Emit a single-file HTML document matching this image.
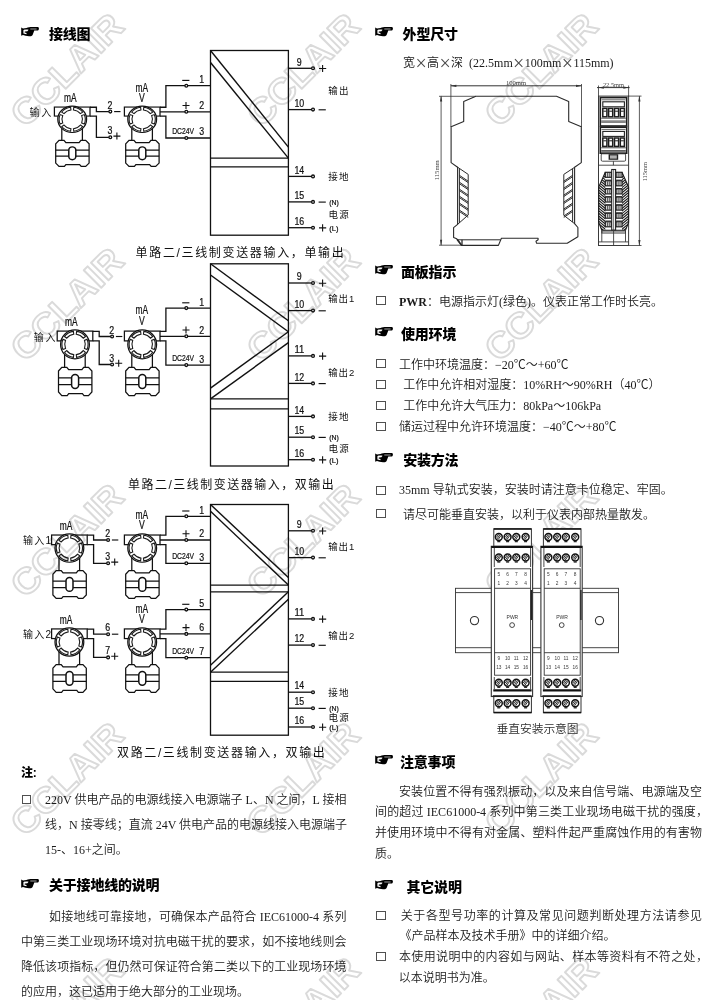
<!DOCTYPE html>
<html lang="zh-CN"><head><meta charset="utf-8"><title>接线图</title>
<style>
html,body{margin:0;padding:0;background:#fff}
#page{position:relative;width:719px;height:1000px;overflow:hidden;background:#fff}
.abs{position:absolute}
.hd{font:900 14px/22px 'Liberation Sans','Noto Sans CJK SC',sans-serif;color:#000;white-space:nowrap;letter-spacing:-0.2px}
.tx{font:12px/16px 'Liberation Serif','Noto Sans CJK SC',sans-serif;color:#1a1a1a;white-space:nowrap;height:16px;margin-top:-0.1px;font-weight:350}
.tx.j{text-align:justify;text-align-last:justify;white-space:nowrap;overflow:visible}
.xx{display:inline-block;width:12px;text-align:center;font-size:20px;color:#4a4a4a;line-height:0;position:relative;top:2.6px}
.pe{margin-right:-6px}
.tx b{font-weight:700}
.bx{width:7.4px;height:7.2px;border:1px solid #505050;box-sizing:content-box}
svg text{white-space:pre}
</style></head>
<body><div id="page">
<svg class="abs" style="left:0;top:0" width="719" height="1000" viewBox="0 0 719 1000"><defs><g id="tx" fill="none" stroke="#111" stroke-width="1.25">
<rect x="-17.8" y="-13.3" width="35.6" height="9.8"/>
<circle r="14.4" fill="#fff"/>
<path d="M12.06 5.12A13.1 13.1 0 0 0 12.06 -5.12L9.48 -4.02A10.3 10.3 0 0 1 9.48 4.02ZM10.46 -7.88A13.1 13.1 0 0 0 1.60 -13.00L1.26 -10.22A10.3 10.3 0 0 1 8.23 -6.20ZM-1.60 -13.00A13.1 13.1 0 0 0 -10.46 -7.88L-8.23 -6.20A10.3 10.3 0 0 1 -1.26 -10.22ZM-12.06 -5.12A13.1 13.1 0 0 0 -12.06 5.12L-9.48 4.02A10.3 10.3 0 0 1 -9.48 -4.02ZM-10.46 7.88A13.1 13.1 0 0 0 -1.60 13.00L-1.26 10.22A10.3 10.3 0 0 1 -8.23 6.20ZM1.60 13.00A13.1 13.1 0 0 0 10.46 7.88L8.23 6.20A10.3 10.3 0 0 1 1.26 10.22Z" stroke-width="1.1" stroke="#1a1a1a" fill="#fff"/>
<path d="M-10.4 10V23M10.2 10V23"/>
<path d="M-16.5 26.6L-13.2 22.9H-8.2L-6.3 25.3H6.9L8.7 22.9H13.5L16.9 26.6V47.6L13.5 51.2H9L7.4 49.3H-6.3L-7.8 51.2H-13.2L-16.5 47.6Z"/>
<path d="M-16.5 33.5H-3.5M3.7 33.5H16.9M-16.5 40.1H-3.5M3.7 40.1H16.9"/>
<rect x="-3.4" y="30" width="7" height="14" rx="3.5" stroke-width="1.5"/>
</g></defs><g fill="none" stroke="#111" stroke-width="1.3" font-family="'Liberation Sans','Noto Sans CJK SC',sans-serif"><g id="dg"><use href="#tx" transform="translate(72.2 119.3) scale(1 0.92)"/>
<use href="#tx" transform="translate(142.2 119.3) scale(1 0.92)"/>
<text fill="#111" stroke="none" x="29.5" y="115.89999999999999" font-size="10" letter-spacing="1.7" text-anchor="start">输入</text>
<path d="M90.0 107.25L96.4 107.25L96.4 111.6L109.0 111.6" />
<path d="M90.0 116.08L96.4 116.08L96.4 137.3L109.0 137.3" />
<circle cx="110.3" cy="111.6" r="1.4" fill="#fff" stroke-width="1.3"/>
<circle cx="110.3" cy="137.3" r="1.4" fill="#fff" stroke-width="1.3"/>
<text fill="#111" stroke="#111" stroke-width="0.22" x="110.0" y="108.6" font-size="10" text-anchor="middle" textLength="4.9" lengthAdjust="spacingAndGlyphs" >2</text>
<text fill="#111" stroke="#111" stroke-width="0.22" x="110.0" y="134.3" font-size="10" text-anchor="middle" textLength="4.9" lengthAdjust="spacingAndGlyphs" >3</text>
<path d="M114.1 111.6H120.5" stroke-width="1.15"/>
<path d="M113.39999999999999 136.10000000000002H120.39999999999999M116.89999999999999 132.60000000000002V139.60000000000002" stroke-width="1.1"/>
<text fill="#111" stroke="#111" stroke-width="0.22" x="70.2" y="102.1" font-size="12" text-anchor="middle" textLength="12.6" lengthAdjust="spacingAndGlyphs" >mA</text>
<path d="M160.0 107.25L165.9 107.25L165.9 85.7L210.5 85.7" />
<path d="M160.0 111.8L210.5 111.8" />
<path d="M160.0 116.08L165.9 116.08L165.9 138.0L210.5 138.0" />
<circle cx="186.3" cy="85.7" r="1.4" fill="#fff" stroke-width="1.3"/>
<text fill="#111" stroke="#111" stroke-width="0.22" x="201.6" y="83.10000000000001" font-size="10" text-anchor="middle" textLength="4.9" lengthAdjust="spacingAndGlyphs" >1</text>
<circle cx="186.3" cy="111.8" r="1.4" fill="#fff" stroke-width="1.3"/>
<text fill="#111" stroke="#111" stroke-width="0.22" x="201.6" y="109.2" font-size="10" text-anchor="middle" textLength="4.9" lengthAdjust="spacingAndGlyphs" >2</text>
<circle cx="186.3" cy="138.0" r="1.4" fill="#fff" stroke-width="1.3"/>
<text fill="#111" stroke="#111" stroke-width="0.22" x="201.6" y="135.4" font-size="10" text-anchor="middle" textLength="4.9" lengthAdjust="spacingAndGlyphs" >3</text>
<path d="M182.20000000000002 80.4H189.4" stroke-width="1.15"/>
<path d="M182.5 105.5H189.5M186.0 102.0V109.0" stroke-width="1.1"/>
<text fill="#111" stroke="#111" stroke-width="0.22" x="172.2" y="134.0" font-size="8.8" text-anchor="start" textLength="21.8" lengthAdjust="spacingAndGlyphs" >DC24V</text>
<text fill="#111" stroke="#111" stroke-width="0.22" x="141.79999999999998" y="91.7" font-size="12" text-anchor="middle" textLength="12.6" lengthAdjust="spacingAndGlyphs" >mA</text>
<text fill="#111" stroke="#111" stroke-width="0.22" x="142.0" y="101.5" font-size="12" text-anchor="middle" textLength="5.8" lengthAdjust="spacingAndGlyphs" >V</text>
<rect x="210.5" y="50.5" width="77.89999999999998" height="184.7"/>
<path d="M210.5 50.5L288.4 147.1" stroke-width="1.4"/>
<path d="M210.5 62.5L288.4 158.1" stroke-width="1.4"/>
<path d="M210.5 158.1L288.4 158.1" />
<path d="M210.5 166.9L288.4 166.9" />
<path d="M288.4 68.3L311.7 68.3" />
<circle cx="313.0" cy="68.3" r="1.4" fill="#fff" stroke-width="1.3"/>
<text fill="#111" stroke="#111" stroke-width="0.22" x="299.3" y="65.5" font-size="10" text-anchor="middle" textLength="4.9" lengthAdjust="spacingAndGlyphs" >9</text>
<path d="M319.0 68.5H326.20000000000005M322.6 64.9V72.1" stroke-width="1.1"/>
<path d="M288.4 109.6L311.7 109.6" />
<circle cx="313.0" cy="109.6" r="1.4" fill="#fff" stroke-width="1.3"/>
<text fill="#111" stroke="#111" stroke-width="0.22" x="299.3" y="106.8" font-size="10" text-anchor="middle" textLength="9.8" lengthAdjust="spacingAndGlyphs" >10</text>
<path d="M318.59999999999997 109.8H325.8" stroke-width="1.15"/>
<text fill="#111" stroke="none" x="328.3" y="93.8" font-size="9.5" letter-spacing="1.2" text-anchor="start">输出</text>
<path d="M288.4 176.4L311.7 176.4" />
<circle cx="313.0" cy="176.4" r="1.4" fill="#fff" stroke-width="1.3"/>
<text fill="#111" stroke="#111" stroke-width="0.22" x="299.3" y="173.6" font-size="10" text-anchor="middle" textLength="9.8" lengthAdjust="spacingAndGlyphs" >14</text>
<path d="M288.4 201.9L311.7 201.9" />
<circle cx="313.0" cy="201.9" r="1.4" fill="#fff" stroke-width="1.3"/>
<text fill="#111" stroke="#111" stroke-width="0.22" x="299.3" y="199.1" font-size="10" text-anchor="middle" textLength="9.8" lengthAdjust="spacingAndGlyphs" >15</text>
<path d="M318.59999999999997 202.1H325.8" stroke-width="1.15"/>
<path d="M288.4 227.7L311.7 227.7" />
<circle cx="313.0" cy="227.7" r="1.4" fill="#fff" stroke-width="1.3"/>
<text fill="#111" stroke="#111" stroke-width="0.22" x="299.3" y="224.89999999999998" font-size="10" text-anchor="middle" textLength="9.8" lengthAdjust="spacingAndGlyphs" >16</text>
<path d="M319.0 227.89999999999998H326.20000000000005M322.6 224.29999999999998V231.49999999999997" stroke-width="1.1"/>
<text fill="#111" stroke="none" x="328.3" y="180.4" font-size="9.5" letter-spacing="1.2" text-anchor="start">接地</text>
<text fill="#111" stroke="none" x="328.6" y="218.0" font-size="9.5" letter-spacing="1.2" text-anchor="start">电源</text>
<text fill="#111" stroke="#111" stroke-width="0.22" x="329.3" y="204.8" font-size="7.8" text-anchor="start" textLength="9.6" lengthAdjust="spacingAndGlyphs" >(N)</text>
<text fill="#111" stroke="#111" stroke-width="0.22" x="329.3" y="230.79999999999998" font-size="7.8" text-anchor="start" textLength="9.2" lengthAdjust="spacingAndGlyphs" >(L)</text>
<use href="#tx" transform="translate(75.0 344.4) scale(1 1.0)"/>
<use href="#tx" transform="translate(142.2 344.4) scale(1 1.0)"/>
<text fill="#111" stroke="none" x="33.8" y="340.59999999999997" font-size="10" letter-spacing="1.7" text-anchor="start">输入</text>
<path d="M92.8 331.3L99.2 331.3L99.2 336.5L110.8 336.5" />
<path d="M92.8 340.9L99.2 340.9L99.2 364.5L110.8 364.5" />
<circle cx="112.1" cy="336.5" r="1.4" fill="#fff" stroke-width="1.3"/>
<circle cx="112.1" cy="364.5" r="1.4" fill="#fff" stroke-width="1.3"/>
<text fill="#111" stroke="#111" stroke-width="0.22" x="111.8" y="333.5" font-size="10" text-anchor="middle" textLength="4.9" lengthAdjust="spacingAndGlyphs" >2</text>
<text fill="#111" stroke="#111" stroke-width="0.22" x="111.8" y="361.5" font-size="10" text-anchor="middle" textLength="4.9" lengthAdjust="spacingAndGlyphs" >3</text>
<path d="M115.89999999999999 336.5H122.3" stroke-width="1.15"/>
<path d="M115.19999999999999 363.3H122.19999999999999M118.69999999999999 359.8V366.8" stroke-width="1.1"/>
<text fill="#111" stroke="#111" stroke-width="0.22" x="71.2" y="325.7" font-size="12" text-anchor="middle" textLength="12.6" lengthAdjust="spacingAndGlyphs" >mA</text>
<path d="M160.0 331.3L165.9 331.3L165.9 308.1L210.5 308.1" />
<path d="M160.0 336.3L210.5 336.3" />
<path d="M160.0 340.9L165.9 340.9L165.9 365.1L210.5 365.1" />
<circle cx="186.3" cy="308.1" r="1.4" fill="#fff" stroke-width="1.3"/>
<text fill="#111" stroke="#111" stroke-width="0.22" x="201.6" y="305.5" font-size="10" text-anchor="middle" textLength="4.9" lengthAdjust="spacingAndGlyphs" >1</text>
<circle cx="186.3" cy="336.3" r="1.4" fill="#fff" stroke-width="1.3"/>
<text fill="#111" stroke="#111" stroke-width="0.22" x="201.6" y="333.7" font-size="10" text-anchor="middle" textLength="4.9" lengthAdjust="spacingAndGlyphs" >2</text>
<circle cx="186.3" cy="365.1" r="1.4" fill="#fff" stroke-width="1.3"/>
<text fill="#111" stroke="#111" stroke-width="0.22" x="201.6" y="362.5" font-size="10" text-anchor="middle" textLength="4.9" lengthAdjust="spacingAndGlyphs" >3</text>
<path d="M182.20000000000002 302.8H189.4" stroke-width="1.15"/>
<path d="M182.5 330.0H189.5M186.0 326.5V333.5" stroke-width="1.1"/>
<text fill="#111" stroke="#111" stroke-width="0.22" x="172.2" y="361.1" font-size="8.8" text-anchor="start" textLength="21.8" lengthAdjust="spacingAndGlyphs" >DC24V</text>
<text fill="#111" stroke="#111" stroke-width="0.22" x="141.79999999999998" y="314.4" font-size="12" text-anchor="middle" textLength="12.6" lengthAdjust="spacingAndGlyphs" >mA</text>
<text fill="#111" stroke="#111" stroke-width="0.22" x="142.0" y="325.1" font-size="12" text-anchor="middle" textLength="5.8" lengthAdjust="spacingAndGlyphs" >V</text>
<rect x="210.5" y="263.8" width="77.89999999999998" height="202.2"/>
<path d="M210.5 263.8L288.4 320.8" stroke-width="1.4"/>
<path d="M210.5 275L288.4 331.8" stroke-width="1.4"/>
<path d="M288.4 331.8L210.5 388.1" stroke-width="1.4"/>
<path d="M288.4 342.6L210.5 398.9" stroke-width="1.4"/>
<path d="M210.5 398.9L288.4 398.9" />
<path d="M210.5 408.9L288.4 408.9" />
<path d="M288.4 283L311.7 283" />
<circle cx="313.0" cy="283" r="1.4" fill="#fff" stroke-width="1.3"/>
<text fill="#111" stroke="#111" stroke-width="0.22" x="299.3" y="280.2" font-size="10" text-anchor="middle" textLength="4.9" lengthAdjust="spacingAndGlyphs" >9</text>
<path d="M319.0 283.2H326.20000000000005M322.6 279.59999999999997V286.8" stroke-width="1.1"/>
<path d="M288.4 310.6L311.7 310.6" />
<circle cx="313.0" cy="310.6" r="1.4" fill="#fff" stroke-width="1.3"/>
<text fill="#111" stroke="#111" stroke-width="0.22" x="299.3" y="307.8" font-size="10" text-anchor="middle" textLength="9.8" lengthAdjust="spacingAndGlyphs" >10</text>
<path d="M318.59999999999997 310.8H325.8" stroke-width="1.15"/>
<path d="M288.4 355.9L311.7 355.9" />
<circle cx="313.0" cy="355.9" r="1.4" fill="#fff" stroke-width="1.3"/>
<text fill="#111" stroke="#111" stroke-width="0.22" x="299.3" y="353.09999999999997" font-size="10" text-anchor="middle" textLength="9.8" lengthAdjust="spacingAndGlyphs" >11</text>
<path d="M319.0 356.09999999999997H326.20000000000005M322.6 352.49999999999994V359.7" stroke-width="1.1"/>
<path d="M288.4 383.4L311.7 383.4" />
<circle cx="313.0" cy="383.4" r="1.4" fill="#fff" stroke-width="1.3"/>
<text fill="#111" stroke="#111" stroke-width="0.22" x="299.3" y="380.59999999999997" font-size="10" text-anchor="middle" textLength="9.8" lengthAdjust="spacingAndGlyphs" >12</text>
<path d="M318.59999999999997 383.59999999999997H325.8" stroke-width="1.15"/>
<text fill="#111" stroke="none" x="328.3" y="301.8" font-size="9.5" letter-spacing="0.8" text-anchor="start">输出1</text>
<text fill="#111" stroke="none" x="328.3" y="375.8" font-size="9.5" letter-spacing="0.8" text-anchor="start">输出2</text>
<path d="M288.4 416.4L311.7 416.4" />
<circle cx="313.0" cy="416.4" r="1.4" fill="#fff" stroke-width="1.3"/>
<text fill="#111" stroke="#111" stroke-width="0.22" x="299.3" y="413.59999999999997" font-size="10" text-anchor="middle" textLength="9.8" lengthAdjust="spacingAndGlyphs" >14</text>
<path d="M288.4 437.2L311.7 437.2" />
<circle cx="313.0" cy="437.2" r="1.4" fill="#fff" stroke-width="1.3"/>
<text fill="#111" stroke="#111" stroke-width="0.22" x="299.3" y="434.4" font-size="10" text-anchor="middle" textLength="9.8" lengthAdjust="spacingAndGlyphs" >15</text>
<path d="M318.59999999999997 437.4H325.8" stroke-width="1.15"/>
<path d="M288.4 459.7L311.7 459.7" />
<circle cx="313.0" cy="459.7" r="1.4" fill="#fff" stroke-width="1.3"/>
<text fill="#111" stroke="#111" stroke-width="0.22" x="299.3" y="456.9" font-size="10" text-anchor="middle" textLength="9.8" lengthAdjust="spacingAndGlyphs" >16</text>
<path d="M319.0 459.9H326.20000000000005M322.6 456.29999999999995V463.5" stroke-width="1.1"/>
<text fill="#111" stroke="none" x="328.3" y="420.4" font-size="9.5" letter-spacing="1.2" text-anchor="start">接地</text>
<text fill="#111" stroke="none" x="328.6" y="451.65" font-size="9.5" letter-spacing="1.2" text-anchor="start">电源</text>
<text fill="#111" stroke="#111" stroke-width="0.22" x="329.3" y="440.09999999999997" font-size="7.8" text-anchor="start" textLength="9.6" lengthAdjust="spacingAndGlyphs" >(N)</text>
<text fill="#111" stroke="#111" stroke-width="0.22" x="329.3" y="462.8" font-size="7.8" text-anchor="start" textLength="9.2" lengthAdjust="spacingAndGlyphs" >(L)</text>
<use href="#tx" transform="translate(69.4 548.1) scale(1 0.983)"/>
<use href="#tx" transform="translate(142.2 548.1) scale(1 0.983)"/>
<text fill="#111" stroke="none" x="23" y="544.3000000000001" font-size="10" letter-spacing="1.2" text-anchor="start">输入1</text>
<path d="M87.2 535.22L93.6 535.22L93.6 540L106.8 540" />
<path d="M87.2 544.66L93.6 544.66L93.6 563.3L106.8 563.3" />
<circle cx="108.1" cy="540" r="1.4" fill="#fff" stroke-width="1.3"/>
<circle cx="108.1" cy="563.3" r="1.4" fill="#fff" stroke-width="1.3"/>
<text fill="#111" stroke="#111" stroke-width="0.22" x="107.8" y="537.0" font-size="10" text-anchor="middle" textLength="4.9" lengthAdjust="spacingAndGlyphs" >2</text>
<text fill="#111" stroke="#111" stroke-width="0.22" x="107.8" y="560.3" font-size="10" text-anchor="middle" textLength="4.9" lengthAdjust="spacingAndGlyphs" >3</text>
<path d="M111.89999999999999 540H118.3" stroke-width="1.15"/>
<path d="M111.19999999999999 562.0999999999999H118.19999999999999M114.69999999999999 558.5999999999999V565.5999999999999" stroke-width="1.1"/>
<text fill="#111" stroke="#111" stroke-width="0.22" x="66.0" y="529.7" font-size="12" text-anchor="middle" textLength="12.6" lengthAdjust="spacingAndGlyphs" >mA</text>
<path d="M160.0 535.22L165.9 535.22L165.9 516.3L210.5 516.3" />
<path d="M160.0 540L210.5 540" />
<path d="M160.0 544.66L165.9 544.66L165.9 563.3L210.5 563.3" />
<circle cx="186.3" cy="516.3" r="1.4" fill="#fff" stroke-width="1.3"/>
<text fill="#111" stroke="#111" stroke-width="0.22" x="201.6" y="513.6999999999999" font-size="10" text-anchor="middle" textLength="4.9" lengthAdjust="spacingAndGlyphs" >1</text>
<circle cx="186.3" cy="540" r="1.4" fill="#fff" stroke-width="1.3"/>
<text fill="#111" stroke="#111" stroke-width="0.22" x="201.6" y="537.4" font-size="10" text-anchor="middle" textLength="4.9" lengthAdjust="spacingAndGlyphs" >2</text>
<circle cx="186.3" cy="563.3" r="1.4" fill="#fff" stroke-width="1.3"/>
<text fill="#111" stroke="#111" stroke-width="0.22" x="201.6" y="560.6999999999999" font-size="10" text-anchor="middle" textLength="4.9" lengthAdjust="spacingAndGlyphs" >3</text>
<path d="M182.20000000000002 510.99999999999994H189.4" stroke-width="1.15"/>
<path d="M182.5 533.7H189.5M186.0 530.2V537.2" stroke-width="1.1"/>
<text fill="#111" stroke="#111" stroke-width="0.22" x="172.2" y="559.3" font-size="8.8" text-anchor="start" textLength="21.8" lengthAdjust="spacingAndGlyphs" >DC24V</text>
<text fill="#111" stroke="#111" stroke-width="0.22" x="141.79999999999998" y="518.6" font-size="12" text-anchor="middle" textLength="12.6" lengthAdjust="spacingAndGlyphs" >mA</text>
<text fill="#111" stroke="#111" stroke-width="0.22" x="142.0" y="529.1" font-size="12" text-anchor="middle" textLength="5.8" lengthAdjust="spacingAndGlyphs" >V</text>
<use href="#tx" transform="translate(69.4 642.0) scale(1 0.983)"/>
<use href="#tx" transform="translate(142.2 642.0) scale(1 0.983)"/>
<text fill="#111" stroke="none" x="23" y="638.2" font-size="10" letter-spacing="1.2" text-anchor="start">输入2</text>
<path d="M87.2 629.12L93.6 629.12L93.6 634.2L106.8 634.2" />
<path d="M87.2 638.56L93.6 638.56L93.6 657.4L106.8 657.4" />
<circle cx="108.1" cy="634.2" r="1.4" fill="#fff" stroke-width="1.3"/>
<circle cx="108.1" cy="657.4" r="1.4" fill="#fff" stroke-width="1.3"/>
<text fill="#111" stroke="#111" stroke-width="0.22" x="107.8" y="631.2" font-size="10" text-anchor="middle" textLength="4.9" lengthAdjust="spacingAndGlyphs" >6</text>
<text fill="#111" stroke="#111" stroke-width="0.22" x="107.8" y="654.4" font-size="10" text-anchor="middle" textLength="4.9" lengthAdjust="spacingAndGlyphs" >7</text>
<path d="M111.89999999999999 634.2H118.3" stroke-width="1.15"/>
<path d="M111.19999999999999 656.1999999999999H118.19999999999999M114.69999999999999 652.6999999999999V659.6999999999999" stroke-width="1.1"/>
<text fill="#111" stroke="#111" stroke-width="0.22" x="66.0" y="623.6" font-size="12" text-anchor="middle" textLength="12.6" lengthAdjust="spacingAndGlyphs" >mA</text>
<path d="M160.0 629.12L165.9 629.12L165.9 609.6L210.5 609.6" />
<path d="M160.0 633.9L210.5 633.9" />
<path d="M160.0 638.56L165.9 638.56L165.9 657.7L210.5 657.7" />
<circle cx="186.3" cy="609.6" r="1.4" fill="#fff" stroke-width="1.3"/>
<text fill="#111" stroke="#111" stroke-width="0.22" x="201.6" y="607.0" font-size="10" text-anchor="middle" textLength="4.9" lengthAdjust="spacingAndGlyphs" >5</text>
<circle cx="186.3" cy="633.9" r="1.4" fill="#fff" stroke-width="1.3"/>
<text fill="#111" stroke="#111" stroke-width="0.22" x="201.6" y="631.3" font-size="10" text-anchor="middle" textLength="4.9" lengthAdjust="spacingAndGlyphs" >6</text>
<circle cx="186.3" cy="657.7" r="1.4" fill="#fff" stroke-width="1.3"/>
<text fill="#111" stroke="#111" stroke-width="0.22" x="201.6" y="655.1" font-size="10" text-anchor="middle" textLength="4.9" lengthAdjust="spacingAndGlyphs" >7</text>
<path d="M182.20000000000002 604.3000000000001H189.4" stroke-width="1.15"/>
<path d="M182.5 627.6H189.5M186.0 624.1V631.1" stroke-width="1.1"/>
<text fill="#111" stroke="#111" stroke-width="0.22" x="172.2" y="653.7" font-size="8.8" text-anchor="start" textLength="21.8" lengthAdjust="spacingAndGlyphs" >DC24V</text>
<text fill="#111" stroke="#111" stroke-width="0.22" x="141.79999999999998" y="612.5" font-size="12" text-anchor="middle" textLength="12.6" lengthAdjust="spacingAndGlyphs" >mA</text>
<text fill="#111" stroke="#111" stroke-width="0.22" x="142.0" y="623.0" font-size="12" text-anchor="middle" textLength="5.8" lengthAdjust="spacingAndGlyphs" >V</text>
<rect x="210.5" y="504.5" width="77.89999999999998" height="230.7"/>
<path d="M210.5 504.5L288.4 577.6" stroke-width="1.4"/>
<path d="M210.5 511.3L288.4 585.1" stroke-width="1.4"/>
<path d="M210.5 585.1L288.4 585.1" />
<path d="M210.5 591.8L288.4 591.8" />
<path d="M288.4 591.8L210.5 665.2" stroke-width="1.4"/>
<path d="M288.4 599.3L210.5 672.2" stroke-width="1.4"/>
<path d="M210.5 672.2L288.4 672.2" />
<path d="M210.5 681.4L288.4 681.4" />
<path d="M288.4 530.8L311.7 530.8" />
<circle cx="313.0" cy="530.8" r="1.4" fill="#fff" stroke-width="1.3"/>
<text fill="#111" stroke="#111" stroke-width="0.22" x="299.3" y="528.0" font-size="10" text-anchor="middle" textLength="4.9" lengthAdjust="spacingAndGlyphs" >9</text>
<path d="M319.0 531.0H326.20000000000005M322.6 527.4V534.6" stroke-width="1.1"/>
<path d="M288.4 557.6L311.7 557.6" />
<circle cx="313.0" cy="557.6" r="1.4" fill="#fff" stroke-width="1.3"/>
<text fill="#111" stroke="#111" stroke-width="0.22" x="299.3" y="554.8000000000001" font-size="10" text-anchor="middle" textLength="9.8" lengthAdjust="spacingAndGlyphs" >10</text>
<path d="M318.59999999999997 557.8000000000001H325.8" stroke-width="1.15"/>
<path d="M288.4 618.9L311.7 618.9" />
<circle cx="313.0" cy="618.9" r="1.4" fill="#fff" stroke-width="1.3"/>
<text fill="#111" stroke="#111" stroke-width="0.22" x="299.3" y="616.1" font-size="10" text-anchor="middle" textLength="9.8" lengthAdjust="spacingAndGlyphs" >11</text>
<path d="M319.0 619.1H326.20000000000005M322.6 615.5V622.7" stroke-width="1.1"/>
<path d="M288.4 645.1L311.7 645.1" />
<circle cx="313.0" cy="645.1" r="1.4" fill="#fff" stroke-width="1.3"/>
<text fill="#111" stroke="#111" stroke-width="0.22" x="299.3" y="642.3000000000001" font-size="10" text-anchor="middle" textLength="9.8" lengthAdjust="spacingAndGlyphs" >12</text>
<path d="M318.59999999999997 645.3000000000001H325.8" stroke-width="1.15"/>
<text fill="#111" stroke="none" x="328.3" y="549.6" font-size="9.5" letter-spacing="0.8" text-anchor="start">输出1</text>
<text fill="#111" stroke="none" x="328.3" y="639" font-size="9.5" letter-spacing="0.8" text-anchor="start">输出2</text>
<path d="M288.4 692.2L311.7 692.2" />
<circle cx="313.0" cy="692.2" r="1.4" fill="#fff" stroke-width="1.3"/>
<text fill="#111" stroke="#111" stroke-width="0.22" x="299.3" y="689.4000000000001" font-size="10" text-anchor="middle" textLength="9.8" lengthAdjust="spacingAndGlyphs" >14</text>
<path d="M288.4 708.2L311.7 708.2" />
<circle cx="313.0" cy="708.2" r="1.4" fill="#fff" stroke-width="1.3"/>
<text fill="#111" stroke="#111" stroke-width="0.22" x="299.3" y="705.4000000000001" font-size="10" text-anchor="middle" textLength="9.8" lengthAdjust="spacingAndGlyphs" >15</text>
<path d="M318.59999999999997 708.4000000000001H325.8" stroke-width="1.15"/>
<path d="M288.4 727L311.7 727" />
<circle cx="313.0" cy="727" r="1.4" fill="#fff" stroke-width="1.3"/>
<text fill="#111" stroke="#111" stroke-width="0.22" x="299.3" y="724.2" font-size="10" text-anchor="middle" textLength="9.8" lengthAdjust="spacingAndGlyphs" >16</text>
<path d="M319.0 727.2H326.20000000000005M322.6 723.6V730.8000000000001" stroke-width="1.1"/>
<text fill="#111" stroke="none" x="328.3" y="696.2" font-size="9.5" letter-spacing="1.2" text-anchor="start">接地</text>
<text fill="#111" stroke="none" x="328.6" y="720.8000000000001" font-size="9.5" letter-spacing="1.2" text-anchor="start">电源</text>
<text fill="#111" stroke="#111" stroke-width="0.22" x="329.3" y="711.1" font-size="7.8" text-anchor="start" textLength="9.6" lengthAdjust="spacingAndGlyphs" >(N)</text>
<text fill="#111" stroke="#111" stroke-width="0.22" x="329.3" y="730.1" font-size="7.8" text-anchor="start" textLength="9.2" lengthAdjust="spacingAndGlyphs" >(L)</text>
<text fill="#111" stroke="none" transform="translate(135.6 256.7) scale(1 1)" x="0" y="0" font-size="12" textLength="208.2" lengthAdjust="spacing">单路二/三线制变送器输入，单输出</text>
<text fill="#111" stroke="none" transform="translate(128 488.7) scale(1 1)" x="0" y="0" font-size="12" textLength="205.8" lengthAdjust="spacing">单路二/三线制变送器输入，双输出</text>
<text fill="#111" stroke="none" transform="translate(117 756.9) scale(1 1)" x="0" y="0" font-size="12" textLength="207.8" lengthAdjust="spacing">双路二/三线制变送器输入，双输出</text></g></g></svg>
<svg class="abs" style="left:0;top:0" width="719" height="1000" viewBox="0 0 719 1000"><g fill="none" stroke="#2a2a2a" stroke-width="1" stroke-linejoin="round">
<path d="M475.9 96.3L556.5 96.3L568.7 101.4L568.7 121.6L581.3 126.7L581.3 162.6L574.6 167.3L574.6 223.7L577.9 227.5L577.9 236.7L567.2 243.3L536.6 243.3L536 241.3L538.1 239.8L538.1 238.2L501.4 238.2L498.4 245.4L461.5 245.4L456.7 238.8L453.6 237.5L453.6 227.6L457.6 224.4L457.6 167.2L451.1 162.6L451.1 126.7L463.7 121.6L463.7 101.4Z" stroke-width="1.1"/>
<path d="M459.4 168.8L459.4 223" />
<path d="M468.2 174.4L468.2 215" />
<path d="M457.6 167.2L468.2 174.4" />
<path d="M457.6 224.4L468.2 215" />
<path d="M459.4 175.3L468.2 181.2" />
<path d="M459.4 176.7L468.2 182.6" />
<path d="M459.4 182.2L468.2 188.2" />
<path d="M459.4 183.7L468.2 189.6" />
<path d="M459.4 189.2L468.2 195.1" />
<path d="M459.4 190.6L468.2 196.5" />
<path d="M459.4 196.2L468.2 202.1" />
<path d="M459.4 197.6L468.2 203.5" />
<path d="M459.4 203.1L468.2 209.0" />
<path d="M459.4 204.5L468.2 210.4" />
<path d="M459.4 210.1L468.2 216.0" />
<path d="M459.4 211.5L468.2 217.4" />
<path d="M572.6 168.8L572.6 222" />
<path d="M563.8 174.4L563.8 215.3" />
<path d="M574.6 167.3L563.8 174.4" />
<path d="M574.6 223.7L563.8 215.3" />
<path d="M572.6 175.3L563.8 181.2" />
<path d="M572.6 176.7L563.8 182.6" />
<path d="M572.6 182.2L563.8 188.2" />
<path d="M572.6 183.7L563.8 189.6" />
<path d="M572.6 189.2L563.8 195.1" />
<path d="M572.6 190.6L563.8 196.5" />
<path d="M572.6 196.2L563.8 202.1" />
<path d="M572.6 197.6L563.8 203.5" />
<path d="M572.6 203.1L563.8 209.0" />
<path d="M572.6 204.5L563.8 210.4" />
<path d="M572.6 210.1L563.8 216.0" />
<path d="M572.6 211.5L563.8 217.4" />
<path d="M457 239.8L500.6 239.8" />
<path d="M457 239.3L461.6 245.2" stroke-width="1.6"/>
<path d="M462 239.8L462 245.4" stroke-width="1.3"/>
</g><g fill="none" stroke="#333" stroke-width="0.8">
<path d="M450.9 85.8L581.5 85.8" stroke-width="1"/>
<path d="M450.9 84L450.9 127" />
<path d="M581.5 84L581.5 127" />
<path d="M441.1 96.3L441.1 245.2" />
<path d="M439 96.3L475.9 96.3" />
<path d="M439 245.2L461.5 245.2" />
</g>
<path d="M450.4 85.8L456.4 84.7L456.4 86.9Z" fill="#333" stroke="none"/>
<path d="M582 85.8L576.0 86.9L576.0 84.7Z" fill="#333" stroke="none"/>
<path d="M441.1 95.6L442.2 101.6L440.0 101.6Z" fill="#333" stroke="none"/>
<path d="M441.1 245.8L440.0 239.8L442.2 239.8Z" fill="#333" stroke="none"/>
<text x="516" y="85.4" font-size="6.6" fill="#444" stroke="none" text-anchor="middle" font-family="'Liberation Serif',serif">100mm</text>
<text transform="translate(439.4 170.3) rotate(-90)" font-size="6.6" fill="#444" text-anchor="middle" font-family="'Liberation Serif',serif">115mm</text>
<g fill="none" stroke="#3a3a3a" stroke-width="0.9">
<rect x="598.5" y="96.1" width="30.1" height="149.4" stroke-width="1"/>
<rect x="600.3" y="97.6" width="26.4" height="28.4" stroke-width="1.6" stroke="#1c1c1c"/>
<path d="M601.5 99.8L625.5 99.8" stroke-width="0.8"/>
<rect x="602.8" y="101.8" width="21.6" height="5.0" stroke-width="1.1" stroke="#222"/>
<rect x="602.8" y="108.4" width="4.1" height="8.4" stroke-width="1.5" stroke="#1c1c1c"/>
<path d="M603.4 111.2L606.3 111.2" stroke-width="1" stroke="#1c1c1c"/>
<rect x="608.6" y="108.4" width="4.1" height="8.4" stroke-width="1.5" stroke="#1c1c1c"/>
<path d="M609.2 111.2L612.1 111.2" stroke-width="1" stroke="#1c1c1c"/>
<rect x="614.5" y="108.4" width="4.1" height="8.4" stroke-width="1.5" stroke="#1c1c1c"/>
<path d="M615.1 111.2L618.0 111.2" stroke-width="1" stroke="#1c1c1c"/>
<rect x="620.3" y="108.4" width="4.1" height="8.4" stroke-width="1.5" stroke="#1c1c1c"/>
<path d="M620.9 111.2L623.8 111.2" stroke-width="1" stroke="#1c1c1c"/>
<path d="M601.2 118.2L625.8 118.2" />
<path d="M601.2 121.0L625.8 121.0" />
<path d="M601.2 122.2L625.8 122.2" />
<rect x="600.3" y="127.2" width="26.4" height="26.0" stroke-width="1.6" stroke="#1c1c1c"/>
<path d="M601.5 129.4L625.5 129.4" stroke-width="0.8"/>
<rect x="602.8" y="131.4" width="21.6" height="5.0" stroke-width="1.1" stroke="#222"/>
<rect x="602.8" y="138.0" width="4.1" height="8.4" stroke-width="1.5" stroke="#1c1c1c"/>
<path d="M603.4 140.8L606.3 140.8" stroke-width="1" stroke="#1c1c1c"/>
<rect x="608.6" y="138.0" width="4.1" height="8.4" stroke-width="1.5" stroke="#1c1c1c"/>
<path d="M609.2 140.8L612.1 140.8" stroke-width="1" stroke="#1c1c1c"/>
<rect x="614.5" y="138.0" width="4.1" height="8.4" stroke-width="1.5" stroke="#1c1c1c"/>
<path d="M615.1 140.8L618.0 140.8" stroke-width="1" stroke="#1c1c1c"/>
<rect x="620.3" y="138.0" width="4.1" height="8.4" stroke-width="1.5" stroke="#1c1c1c"/>
<path d="M620.9 140.8L623.8 140.8" stroke-width="1" stroke="#1c1c1c"/>
<path d="M601.2 147.8L625.8 147.8" />
<path d="M601.2 150.6L625.8 150.6" />
<path d="M601.2 151.8L625.8 151.8" />
<rect x="601.2" y="153.8" width="24.4" height="7.4" rx="1.2"/>
<rect x="609.3" y="154.9" width="8.2" height="4.2" stroke-width="1.4" stroke="#222"/>
<path d="M610 157L617 157" stroke-width="0.8"/>
<path d="M598.5 165.2L628.6 165.2" />
<path d="M613.4 161.2L613.4 165.2" />
<defs><clipPath id="fl"><path d="M605.3 172.3L598.7 187V222.5L601.8 230.2H605.3Z"/></clipPath><clipPath id="fr"><path d="M622 172.3L628.6 187V222.5L625.5 230.2H622Z"/></clipPath></defs>
<g clip-path="url(#fl)" stroke="#1c1c1c" stroke-width="1.15">
<path d="M598 166.0L606 172.6" />
<path d="M598 168.6L606 175.2" />
<path d="M598 171.2L606 177.8" />
<path d="M598 173.8L606 180.4" />
<path d="M598 176.4L606 183.0" />
<path d="M598 179.0L606 185.6" />
<path d="M598 181.6L606 188.2" />
<path d="M598 184.2L606 190.8" />
<path d="M598 186.8L606 193.4" />
<path d="M598 189.4L606 196.0" />
<path d="M598 192.0L606 198.6" />
<path d="M598 194.6L606 201.2" />
<path d="M598 197.2L606 203.8" />
<path d="M598 199.8L606 206.4" />
<path d="M598 202.4L606 209.0" />
<path d="M598 205.0L606 211.6" />
<path d="M598 207.6L606 214.2" />
<path d="M598 210.2L606 216.8" />
<path d="M598 212.8L606 219.4" />
<path d="M598 215.4L606 222.0" />
<path d="M598 218.0L606 224.6" />
<path d="M598 220.6L606 227.2" />
<path d="M598 223.2L606 229.8" />
<path d="M598 225.8L606 232.4" />
<path d="M598 228.4L606 235.0" />
<path d="M598 231.0L606 237.6" />
</g><g clip-path="url(#fr)" stroke="#1c1c1c" stroke-width="1.15">
<path d="M629.3 166.0L621.3 172.6" />
<path d="M629.3 168.6L621.3 175.2" />
<path d="M629.3 171.2L621.3 177.8" />
<path d="M629.3 173.8L621.3 180.4" />
<path d="M629.3 176.4L621.3 183.0" />
<path d="M629.3 179.0L621.3 185.6" />
<path d="M629.3 181.6L621.3 188.2" />
<path d="M629.3 184.2L621.3 190.8" />
<path d="M629.3 186.8L621.3 193.4" />
<path d="M629.3 189.4L621.3 196.0" />
<path d="M629.3 192.0L621.3 198.6" />
<path d="M629.3 194.6L621.3 201.2" />
<path d="M629.3 197.2L621.3 203.8" />
<path d="M629.3 199.8L621.3 206.4" />
<path d="M629.3 202.4L621.3 209.0" />
<path d="M629.3 205.0L621.3 211.6" />
<path d="M629.3 207.6L621.3 214.2" />
<path d="M629.3 210.2L621.3 216.8" />
<path d="M629.3 212.8L621.3 219.4" />
<path d="M629.3 215.4L621.3 222.0" />
<path d="M629.3 218.0L621.3 224.6" />
<path d="M629.3 220.6L621.3 227.2" />
<path d="M629.3 223.2L621.3 229.8" />
<path d="M629.3 225.8L621.3 232.4" />
<path d="M629.3 228.4L621.3 235.0" />
<path d="M629.3 231.0L621.3 237.6" />
</g>
<path d="M605.3 172.3L598.7 187L598.7 222.5L601.8 230.2L625.5 230.2L628.6 222.5L628.6 187L622 172.3" stroke="#1c1c1c" stroke-width="1.1"/>
<rect x="611.7" y="169.5" width="3.9" height="60.7" stroke-width="1.1" stroke="#222"/>
<path d="M613.6 170L613.6 230.2" stroke-width="0.7"/>
<rect x="605.3" y="172.3" width="5.9" height="5.0" stroke-width="1.2" stroke="#1c1c1c"/>
<path d="M607.3 172.9L607.3 176.9" stroke-width="0.9" stroke="#1c1c1c"/>
<path d="M609.2 172.9L609.2 176.9" stroke-width="0.9" stroke="#1c1c1c"/>
<path d="M605.3 180.1L611.2 180.1" stroke-width="0.9" stroke="#1c1c1c"/>
<rect x="616.1" y="172.3" width="5.9" height="5.0" stroke-width="1.2" stroke="#1c1c1c"/>
<path d="M618.1 172.9L618.1 176.9" stroke-width="0.9" stroke="#1c1c1c"/>
<path d="M620.0 172.9L620.0 176.9" stroke-width="0.9" stroke="#1c1c1c"/>
<path d="M616.1 180.1L622.0 180.1" stroke-width="0.9" stroke="#1c1c1c"/>
<rect x="605.3" y="180.8" width="5.9" height="5.0" stroke-width="1.2" stroke="#1c1c1c"/>
<path d="M607.3 181.4L607.3 185.4" stroke-width="0.9" stroke="#1c1c1c"/>
<path d="M609.2 181.4L609.2 185.4" stroke-width="0.9" stroke="#1c1c1c"/>
<path d="M605.3 188.6L611.2 188.6" stroke-width="0.9" stroke="#1c1c1c"/>
<rect x="616.1" y="180.8" width="5.9" height="5.0" stroke-width="1.2" stroke="#1c1c1c"/>
<path d="M618.1 181.4L618.1 185.4" stroke-width="0.9" stroke="#1c1c1c"/>
<path d="M620.0 181.4L620.0 185.4" stroke-width="0.9" stroke="#1c1c1c"/>
<path d="M616.1 188.6L622.0 188.6" stroke-width="0.9" stroke="#1c1c1c"/>
<rect x="605.3" y="188.9" width="5.9" height="5.0" stroke-width="1.2" stroke="#1c1c1c"/>
<path d="M607.3 189.5L607.3 193.5" stroke-width="0.9" stroke="#1c1c1c"/>
<path d="M609.2 189.5L609.2 193.5" stroke-width="0.9" stroke="#1c1c1c"/>
<path d="M605.3 196.7L611.2 196.7" stroke-width="0.9" stroke="#1c1c1c"/>
<rect x="616.1" y="188.9" width="5.9" height="5.0" stroke-width="1.2" stroke="#1c1c1c"/>
<path d="M618.1 189.5L618.1 193.5" stroke-width="0.9" stroke="#1c1c1c"/>
<path d="M620.0 189.5L620.0 193.5" stroke-width="0.9" stroke="#1c1c1c"/>
<path d="M616.1 196.7L622.0 196.7" stroke-width="0.9" stroke="#1c1c1c"/>
<rect x="605.3" y="197.0" width="5.9" height="5.0" stroke-width="1.2" stroke="#1c1c1c"/>
<path d="M607.3 197.6L607.3 201.6" stroke-width="0.9" stroke="#1c1c1c"/>
<path d="M609.2 197.6L609.2 201.6" stroke-width="0.9" stroke="#1c1c1c"/>
<path d="M605.3 204.8L611.2 204.8" stroke-width="0.9" stroke="#1c1c1c"/>
<rect x="616.1" y="197.0" width="5.9" height="5.0" stroke-width="1.2" stroke="#1c1c1c"/>
<path d="M618.1 197.6L618.1 201.6" stroke-width="0.9" stroke="#1c1c1c"/>
<path d="M620.0 197.6L620.0 201.6" stroke-width="0.9" stroke="#1c1c1c"/>
<path d="M616.1 204.8L622.0 204.8" stroke-width="0.9" stroke="#1c1c1c"/>
<rect x="605.3" y="205.1" width="5.9" height="5.0" stroke-width="1.2" stroke="#1c1c1c"/>
<path d="M607.3 205.7L607.3 209.7" stroke-width="0.9" stroke="#1c1c1c"/>
<path d="M609.2 205.7L609.2 209.7" stroke-width="0.9" stroke="#1c1c1c"/>
<path d="M605.3 212.9L611.2 212.9" stroke-width="0.9" stroke="#1c1c1c"/>
<rect x="616.1" y="205.1" width="5.9" height="5.0" stroke-width="1.2" stroke="#1c1c1c"/>
<path d="M618.1 205.7L618.1 209.7" stroke-width="0.9" stroke="#1c1c1c"/>
<path d="M620.0 205.7L620.0 209.7" stroke-width="0.9" stroke="#1c1c1c"/>
<path d="M616.1 212.9L622.0 212.9" stroke-width="0.9" stroke="#1c1c1c"/>
<rect x="605.3" y="213.2" width="5.9" height="5.0" stroke-width="1.2" stroke="#1c1c1c"/>
<path d="M607.3 213.8L607.3 217.8" stroke-width="0.9" stroke="#1c1c1c"/>
<path d="M609.2 213.8L609.2 217.8" stroke-width="0.9" stroke="#1c1c1c"/>
<path d="M605.3 221.0L611.2 221.0" stroke-width="0.9" stroke="#1c1c1c"/>
<rect x="616.1" y="213.2" width="5.9" height="5.0" stroke-width="1.2" stroke="#1c1c1c"/>
<path d="M618.1 213.8L618.1 217.8" stroke-width="0.9" stroke="#1c1c1c"/>
<path d="M620.0 213.8L620.0 217.8" stroke-width="0.9" stroke="#1c1c1c"/>
<path d="M616.1 221.0L622.0 221.0" stroke-width="0.9" stroke="#1c1c1c"/>
<rect x="605.3" y="221.8" width="5.9" height="5.0" stroke-width="1.2" stroke="#1c1c1c"/>
<path d="M607.3 222.4L607.3 226.4" stroke-width="0.9" stroke="#1c1c1c"/>
<path d="M609.2 222.4L609.2 226.4" stroke-width="0.9" stroke="#1c1c1c"/>
<rect x="616.1" y="221.8" width="5.9" height="5.0" stroke-width="1.2" stroke="#1c1c1c"/>
<path d="M618.1 222.4L618.1 226.4" stroke-width="0.9" stroke="#1c1c1c"/>
<path d="M620.0 222.4L620.0 226.4" stroke-width="0.9" stroke="#1c1c1c"/>
<path d="M613.6 230.2L613.6 245.5" />
<path d="M598.5 241.9L628.6 241.9" />
<path d="M601.8 230.2L601.8 241.9" />
<path d="M625.5 230.2L625.5 241.9" />
<rect x="601.8" y="231" width="23.7" height="2" stroke-width="1"/>
</g><g fill="none" stroke="#333" stroke-width="0.8">
<path d="M597 87.6L629.6 87.6" stroke-width="1"/>
<path d="M598.5 85.5L598.5 96.1" />
<path d="M628.6 85.5L628.6 96.1" />
<path d="M639.4 96.1L639.4 245.5" />
<path d="M628.6 96.1L641.5 96.1" />
<path d="M628.6 245.5L641.5 245.5" />
</g>
<path d="M598.3 87.6L603.8 86.5L603.8 88.7Z" fill="#333" stroke="none"/>
<path d="M628.9 87.6L623.4 88.7L623.4 86.5Z" fill="#333" stroke="none"/>
<path d="M639.4 95.6L640.5 101.6L638.3 101.6Z" fill="#333" stroke="none"/>
<path d="M639.4 246L638.3 240.0L640.5 240.0Z" fill="#333" stroke="none"/>
<text x="613.5" y="86.9" font-size="6.4" fill="#444" stroke="none" text-anchor="middle" font-family="'Liberation Serif',serif">22.5mm</text>
<text transform="translate(646.6 171.7) rotate(-90)" font-size="6.4" fill="#444" text-anchor="middle" font-family="'Liberation Serif',serif">115mm</text></svg>
<svg class="abs" style="left:21.2px;top:26.9px" width="19" height="10" viewBox="0 0 19 10"><path d="M0.2 0.5L2 1.5L5.5 0.9C7 0.3 9 0.1 11 0.1H16.9C18.3 0.1 18.3 3.5 16.9 3.5H13.3L11.6 8C11.1 9.2 9.5 9.5 8 9.3L4.5 8.7L2 8.1L0.2 8.7Z" fill="#000"/><path d="M2.4 3.2C3.5 2.6 6 2.4 7.6 2.8L6.4 4.2L3.8 4.4L3.6 5.4L5.6 6L5.4 7.2L2.4 6.6Z" fill="#fff"/><path d="M9.3 1.65H15.6V2.35H9.3Z" fill="#e8e8e8"/></svg>
<div class="abs hd" style="left:49px;top:22.8px">接线图</div>
<div class="abs hd" style="left:21px;top:762px;font-size:12px">注:</div>
<div class="abs bx" style="left:21.7px;top:795px"></div>
<div class="abs tx j " style="left:45px;top:792.4px;width:301.5px">220V 供电产品的电源线接入电源端子 L、N 之间，L 接相</div>
<div class="abs tx j " style="left:45px;top:817.4px;width:301.5px">线，N 接零线；直流 24V 供电产品的电源线接入电源端子</div>
<div class="abs tx " style="left:45px;top:842.2px;width:200px">15-、16+之间。</div>
<svg class="abs" style="left:21.3px;top:878.5px" width="19" height="10" viewBox="0 0 19 10"><path d="M0.2 0.5L2 1.5L5.5 0.9C7 0.3 9 0.1 11 0.1H16.9C18.3 0.1 18.3 3.5 16.9 3.5H13.3L11.6 8C11.1 9.2 9.5 9.5 8 9.3L4.5 8.7L2 8.1L0.2 8.7Z" fill="#000"/><path d="M2.4 3.2C3.5 2.6 6 2.4 7.6 2.8L6.4 4.2L3.8 4.4L3.6 5.4L5.6 6L5.4 7.2L2.4 6.6Z" fill="#fff"/><path d="M9.3 1.65H15.6V2.35H9.3Z" fill="#e8e8e8"/></svg>
<div class="abs hd" style="left:49px;top:874.4px">关于接地线的说明</div>
<div class="abs tx j " style="left:49px;top:909px;width:297.5px">如接地线可靠接地，可确保本产品符合 IEC61000-4 系列</div>
<div class="abs tx j " style="left:21px;top:934px;width:325.5px">中第三类工业现场环境对抗电磁干扰的要求，如不接地线则会</div>
<div class="abs tx j " style="left:21px;top:959.5px;width:325.5px">降低该项指标，但仍然可保证符合第二类以下的工业现场环境</div>
<div class="abs tx " style="left:21px;top:984px;width:300px">的应用，这已适用于绝大部分的工业现场。</div>
<svg class="abs" style="left:374.7px;top:27.4px" width="19" height="10" viewBox="0 0 19 10"><path d="M0.2 0.5L2 1.5L5.5 0.9C7 0.3 9 0.1 11 0.1H16.9C18.3 0.1 18.3 3.5 16.9 3.5H13.3L11.6 8C11.1 9.2 9.5 9.5 8 9.3L4.5 8.7L2 8.1L0.2 8.7Z" fill="#000"/><path d="M2.4 3.2C3.5 2.6 6 2.4 7.6 2.8L6.4 4.2L3.8 4.4L3.6 5.4L5.6 6L5.4 7.2L2.4 6.6Z" fill="#fff"/><path d="M9.3 1.65H15.6V2.35H9.3Z" fill="#e8e8e8"/></svg>
<div class="abs hd" style="left:402.6px;top:23.3px">外型尺寸</div>
<div class="abs tx " style="left:403px;top:55.5px;width:300px">宽<span class="xx">×</span>高<span class="xx">×</span>深<span style="margin-left:3px"> </span>(22.5mm<span class="xx">×</span>100mm<span class="xx">×</span>115mm)</div>
<svg class="abs" style="left:374.7px;top:264.9px" width="19" height="10" viewBox="0 0 19 10"><path d="M0.2 0.5L2 1.5L5.5 0.9C7 0.3 9 0.1 11 0.1H16.9C18.3 0.1 18.3 3.5 16.9 3.5H13.3L11.6 8C11.1 9.2 9.5 9.5 8 9.3L4.5 8.7L2 8.1L0.2 8.7Z" fill="#000"/><path d="M2.4 3.2C3.5 2.6 6 2.4 7.6 2.8L6.4 4.2L3.8 4.4L3.6 5.4L5.6 6L5.4 7.2L2.4 6.6Z" fill="#fff"/><path d="M9.3 1.65H15.6V2.35H9.3Z" fill="#e8e8e8"/></svg>
<div class="abs hd" style="left:401px;top:260.8px">面板指示</div>
<div class="abs bx" style="left:376.3px;top:296.2px"></div>
<div class="abs tx " style="left:399px;top:293.7px;width:300px"><b>PWR</b>：电源指示灯(绿色)。仪表正常工作时长亮。</div>
<svg class="abs" style="left:374.7px;top:327.29999999999995px" width="19" height="10" viewBox="0 0 19 10"><path d="M0.2 0.5L2 1.5L5.5 0.9C7 0.3 9 0.1 11 0.1H16.9C18.3 0.1 18.3 3.5 16.9 3.5H13.3L11.6 8C11.1 9.2 9.5 9.5 8 9.3L4.5 8.7L2 8.1L0.2 8.7Z" fill="#000"/><path d="M2.4 3.2C3.5 2.6 6 2.4 7.6 2.8L6.4 4.2L3.8 4.4L3.6 5.4L5.6 6L5.4 7.2L2.4 6.6Z" fill="#fff"/><path d="M9.3 1.65H15.6V2.35H9.3Z" fill="#e8e8e8"/></svg>
<div class="abs hd" style="left:401px;top:323.2px">使用环境</div>
<div class="abs bx" style="left:376.3px;top:359.2px"></div>
<div class="abs tx " style="left:399px;top:356.6px;width:300px">工作中环境温度：−20℃～+60℃</div>
<div class="abs bx" style="left:376.3px;top:380px"></div>
<div class="abs tx " style="left:403.2px;top:377.3px;width:300px">工作中允许相对湿度：10%RH～90%RH（40℃）</div>
<div class="abs bx" style="left:376.3px;top:400.7px"></div>
<div class="abs tx " style="left:403.2px;top:397.8px;width:300px">工作中允许大气压力：80kPa～106kPa</div>
<div class="abs bx" style="left:376.3px;top:421.5px"></div>
<div class="abs tx " style="left:399px;top:418.8px;width:300px">储运过程中允许环境温度：−40℃～+80℃</div>
<svg class="abs" style="left:374.7px;top:452.7px" width="19" height="10" viewBox="0 0 19 10"><path d="M0.2 0.5L2 1.5L5.5 0.9C7 0.3 9 0.1 11 0.1H16.9C18.3 0.1 18.3 3.5 16.9 3.5H13.3L11.6 8C11.1 9.2 9.5 9.5 8 9.3L4.5 8.7L2 8.1L0.2 8.7Z" fill="#000"/><path d="M2.4 3.2C3.5 2.6 6 2.4 7.6 2.8L6.4 4.2L3.8 4.4L3.6 5.4L5.6 6L5.4 7.2L2.4 6.6Z" fill="#fff"/><path d="M9.3 1.65H15.6V2.35H9.3Z" fill="#e8e8e8"/></svg>
<div class="abs hd" style="left:403.2px;top:448.6px">安装方法</div>
<div class="abs bx" style="left:376.3px;top:485.7px"></div>
<div class="abs tx " style="left:399px;top:482.2px;width:300px">35mm 导轨式安装，安装时请注意卡位稳定、牢固。</div>
<div class="abs bx" style="left:376.3px;top:508.8px"></div>
<div class="abs tx " style="left:403px;top:506.7px;width:300px">请尽可能垂直安装，以利于仪表内部热量散发。</div>
<svg class="abs" style="left:374.7px;top:754.9px" width="19" height="10" viewBox="0 0 19 10"><path d="M0.2 0.5L2 1.5L5.5 0.9C7 0.3 9 0.1 11 0.1H16.9C18.3 0.1 18.3 3.5 16.9 3.5H13.3L11.6 8C11.1 9.2 9.5 9.5 8 9.3L4.5 8.7L2 8.1L0.2 8.7Z" fill="#000"/><path d="M2.4 3.2C3.5 2.6 6 2.4 7.6 2.8L6.4 4.2L3.8 4.4L3.6 5.4L5.6 6L5.4 7.2L2.4 6.6Z" fill="#fff"/><path d="M9.3 1.65H15.6V2.35H9.3Z" fill="#e8e8e8"/></svg>
<div class="abs hd" style="left:400px;top:750.8px">注意事项</div>
<div class="abs tx j " style="left:399px;top:783.7px;width:303px">安装位置不得有强烈振动，以及来自信号端、电源端及空</div>
<div class="abs tx j " style="left:375px;top:804.5px;width:327px">间的超过 IEC61000-4 系列中第三类工业现场电磁干扰的强度<span class="pe">，</span></div>
<div class="abs tx j " style="left:375px;top:825.5px;width:327px">并使用环境中不得有对金属、塑料件起严重腐蚀作用的有害物</div>
<div class="abs tx " style="left:375px;top:846.4px;width:100px">质。</div>
<svg class="abs" style="left:374.7px;top:879.9px" width="19" height="10" viewBox="0 0 19 10"><path d="M0.2 0.5L2 1.5L5.5 0.9C7 0.3 9 0.1 11 0.1H16.9C18.3 0.1 18.3 3.5 16.9 3.5H13.3L11.6 8C11.1 9.2 9.5 9.5 8 9.3L4.5 8.7L2 8.1L0.2 8.7Z" fill="#000"/><path d="M2.4 3.2C3.5 2.6 6 2.4 7.6 2.8L6.4 4.2L3.8 4.4L3.6 5.4L5.6 6L5.4 7.2L2.4 6.6Z" fill="#fff"/><path d="M9.3 1.65H15.6V2.35H9.3Z" fill="#e8e8e8"/></svg>
<div class="abs hd" style="left:406.5px;top:875.8px">其它说明</div>
<div class="abs bx" style="left:376.3px;top:911px"></div>
<div class="abs tx j " style="left:400.8px;top:908.3px;width:301.2px">关于各型号功率的计算及常见问题判断处理方法请参见</div>
<div class="abs tx " style="left:399.5px;top:928.2px;width:300px">《产品样本及技术手册》中的详细介绍。</div>
<div class="abs bx" style="left:376.3px;top:951.8px"></div>
<div class="abs tx j " style="left:399px;top:949.4px;width:303px">本使用说明中的内容如与网站、样本等资料有不符之处<span class="pe">，</span></div>
<div class="abs tx " style="left:398.8px;top:970.4px;width:100px">以本说明书为准。</div>
<svg class="abs" style="left:0;top:0;mix-blend-mode:multiply;pointer-events:none" width="719" height="1000" viewBox="0 0 719 1000">
<g font-family="'Liberation Sans',sans-serif" font-size="36" font-weight="700" fill="none" stroke="#dadada" stroke-width="1.9" stroke-linejoin="round" text-anchor="middle">
<text transform="translate(66.7 69.5) rotate(-45)" x="0" y="12.9" textLength="142" lengthAdjust="spacingAndGlyphs">CCLAIR</text>
<text transform="translate(302.7 69.5) rotate(-45)" x="0" y="12.9" textLength="142" lengthAdjust="spacingAndGlyphs">CCLAIR</text>
<text transform="translate(540.5 69.5) rotate(-45)" x="0" y="12.9" textLength="142" lengthAdjust="spacingAndGlyphs">CCLAIR</text>
<text transform="translate(66.7 304) rotate(-45)" x="0" y="12.9" textLength="142" lengthAdjust="spacingAndGlyphs">CCLAIR</text>
<text transform="translate(302.7 304) rotate(-45)" x="0" y="12.9" textLength="142" lengthAdjust="spacingAndGlyphs">CCLAIR</text>
<text transform="translate(540.5 304) rotate(-45)" x="0" y="12.9" textLength="142" lengthAdjust="spacingAndGlyphs">CCLAIR</text>
<text transform="translate(66.7 540) rotate(-45)" x="0" y="12.9" textLength="142" lengthAdjust="spacingAndGlyphs">CCLAIR</text>
<text transform="translate(302.7 540) rotate(-45)" x="0" y="12.9" textLength="142" lengthAdjust="spacingAndGlyphs">CCLAIR</text>
<text transform="translate(540.5 540) rotate(-45)" x="0" y="12.9" textLength="142" lengthAdjust="spacingAndGlyphs">CCLAIR</text>
<text transform="translate(66.7 778.5) rotate(-45)" x="0" y="12.9" textLength="142" lengthAdjust="spacingAndGlyphs">CCLAIR</text>
<text transform="translate(302.7 778.5) rotate(-45)" x="0" y="12.9" textLength="142" lengthAdjust="spacingAndGlyphs">CCLAIR</text>
<text transform="translate(540.5 778.5) rotate(-45)" x="0" y="12.9" textLength="142" lengthAdjust="spacingAndGlyphs">CCLAIR</text>
<text transform="translate(66.7 1013.5) rotate(-45)" x="0" y="12.9" textLength="142" lengthAdjust="spacingAndGlyphs">CCLAIR</text>
<text transform="translate(302.7 1013.5) rotate(-45)" x="0" y="12.9" textLength="142" lengthAdjust="spacingAndGlyphs">CCLAIR</text>
<text transform="translate(540.5 1013.5) rotate(-45)" x="0" y="12.9" textLength="142" lengthAdjust="spacingAndGlyphs">CCLAIR</text>
</g></svg>
<svg class="abs" style="left:0;top:0" width="719" height="1000" viewBox="0 0 719 1000"><g fill="none" stroke="#333" stroke-width="0.9">
<rect x="455.5" y="588.3" width="163.0" height="64.4" fill="#fff"/>
<path d="M455.5 592.6L618.5 592.6" />
<path d="M455.5 647.7L618.5 647.7" />
<circle cx="474.5" cy="620.6" r="4.1" stroke-width="1.1"/><circle cx="599.5" cy="620.6" r="4.1" stroke-width="1.1"/>
<rect x="493.8" y="528.8" width="37.6" height="17.5" fill="#fff" stroke-width="1"/>
<rect x="493.8" y="696.5" width="37.6" height="16.2" fill="#fff" stroke-width="1"/>
<path d="M493.8 529L531.4 529" stroke-width="1.6" stroke="#111"/>
<path d="M493.8 712.5L531.4 712.5" stroke-width="1.4" stroke="#111"/>
<rect x="491.3" y="546.3" width="41.3" height="150.2" fill="#fff" stroke-width="1.1"/>
<path d="M491.3 547L532.6 547" stroke-width="1.8" stroke="#111"/>
<path d="M493.3 690.3L531.6 690.3" stroke-width="2.2" stroke="#111"/>
<path d="M492.8 695.8L531.6 695.8" stroke-width="1.2" stroke="#111"/>
<path d="M494.3 548L494.3 567" />
<path d="M530.6 548L530.6 567" />
<path d="M494.3 677L494.3 689" />
<path d="M530.6 677L530.6 689" />
<rect x="494.6" y="568.8" width="36.0" height="106.4" />
<path d="M494.6 588.3L530.6 588.3" />
<path d="M494.6 652.7L530.6 652.7" />
<path d="M531.3 590L531.3 620" stroke-width="1.4" stroke="#222"/>
<circle cx="498.8" cy="537" r="3.45" stroke-width="1.5" stroke="#111" fill="#fff"/>
<path d="M497.0 538.9L500.0 534.6M498.2 539.5L501.0 535.4M496.4 537.4L498.6 534.2" stroke-width="0.95" stroke="#222"/>
<circle cx="507.6" cy="537" r="3.45" stroke-width="1.5" stroke="#111" fill="#fff"/>
<path d="M505.8 538.9L508.8 534.6M507.0 539.5L509.8 535.4M505.2 537.4L507.4 534.2" stroke-width="0.95" stroke="#222"/>
<circle cx="516.3" cy="537" r="3.45" stroke-width="1.5" stroke="#111" fill="#fff"/>
<path d="M514.5 538.9L517.5 534.6M515.7 539.5L518.5 535.4M513.9 537.4L516.1 534.2" stroke-width="0.95" stroke="#222"/>
<circle cx="525.6" cy="537" r="3.45" stroke-width="1.5" stroke="#111" fill="#fff"/>
<path d="M523.8 538.9L526.8 534.6M525.0 539.5L527.8 535.4M523.2 537.4L525.4 534.2" stroke-width="0.95" stroke="#222"/>
<circle cx="498.8" cy="557.5" r="3.45" stroke-width="1.5" stroke="#111" fill="#fff"/>
<path d="M497.0 559.4L500.0 555.1M498.2 560.0L501.0 555.9M496.4 557.9L498.6 554.7" stroke-width="0.95" stroke="#222"/>
<circle cx="507.6" cy="557.5" r="3.45" stroke-width="1.5" stroke="#111" fill="#fff"/>
<path d="M505.8 559.4L508.8 555.1M507.0 560.0L509.8 555.9M505.2 557.9L507.4 554.7" stroke-width="0.95" stroke="#222"/>
<circle cx="516.3" cy="557.5" r="3.45" stroke-width="1.5" stroke="#111" fill="#fff"/>
<path d="M514.5 559.4L517.5 555.1M515.7 560.0L518.5 555.9M513.9 557.9L516.1 554.7" stroke-width="0.95" stroke="#222"/>
<circle cx="525.6" cy="557.5" r="3.45" stroke-width="1.5" stroke="#111" fill="#fff"/>
<path d="M523.8 559.4L526.8 555.1M525.0 560.0L527.8 555.9M523.2 557.9L525.4 554.7" stroke-width="0.95" stroke="#222"/>
<circle cx="498.8" cy="682.7" r="3.45" stroke-width="1.5" stroke="#111" fill="#fff"/>
<path d="M497.0 684.6L500.0 680.3000000000001M498.2 685.2L501.0 681.1M496.4 683.1L498.6 679.9000000000001" stroke-width="0.95" stroke="#222"/>
<circle cx="507.6" cy="682.7" r="3.45" stroke-width="1.5" stroke="#111" fill="#fff"/>
<path d="M505.8 684.6L508.8 680.3000000000001M507.0 685.2L509.8 681.1M505.2 683.1L507.4 679.9000000000001" stroke-width="0.95" stroke="#222"/>
<circle cx="516.3" cy="682.7" r="3.45" stroke-width="1.5" stroke="#111" fill="#fff"/>
<path d="M514.5 684.6L517.5 680.3000000000001M515.7 685.2L518.5 681.1M513.9 683.1L516.1 679.9000000000001" stroke-width="0.95" stroke="#222"/>
<circle cx="525.6" cy="682.7" r="3.45" stroke-width="1.5" stroke="#111" fill="#fff"/>
<path d="M523.8 684.6L526.8 680.3000000000001M525.0 685.2L527.8 681.1M523.2 683.1L525.4 679.9000000000001" stroke-width="0.95" stroke="#222"/>
<circle cx="498.8" cy="703.2" r="3.45" stroke-width="1.5" stroke="#111" fill="#fff"/>
<path d="M497.0 705.1L500.0 700.8000000000001M498.2 705.7L501.0 701.6M496.4 703.6L498.6 700.4000000000001" stroke-width="0.95" stroke="#222"/>
<circle cx="507.6" cy="703.2" r="3.45" stroke-width="1.5" stroke="#111" fill="#fff"/>
<path d="M505.8 705.1L508.8 700.8000000000001M507.0 705.7L509.8 701.6M505.2 703.6L507.4 700.4000000000001" stroke-width="0.95" stroke="#222"/>
<circle cx="516.3" cy="703.2" r="3.45" stroke-width="1.5" stroke="#111" fill="#fff"/>
<path d="M514.5 705.1L517.5 700.8000000000001M515.7 705.7L518.5 701.6M513.9 703.6L516.1 700.4000000000001" stroke-width="0.95" stroke="#222"/>
<circle cx="525.6" cy="703.2" r="3.45" stroke-width="1.5" stroke="#111" fill="#fff"/>
<path d="M523.8 705.1L526.8 700.8000000000001M525.0 705.7L527.8 701.6M523.2 703.6L525.4 700.4000000000001" stroke-width="0.95" stroke="#222"/>
<path d="M497.3 541.6L500.3 541.6" stroke-width="1.3" stroke="#222"/>
<path d="M506.1 541.6L509.1 541.6" stroke-width="1.3" stroke="#222"/>
<path d="M514.8 541.6L517.8 541.6" stroke-width="1.3" stroke="#222"/>
<path d="M524.1 541.6L527.1 541.6" stroke-width="1.3" stroke="#222"/>
<path d="M497.3 562L500.3 562" stroke-width="1.3" stroke="#222"/>
<path d="M506.1 562L509.1 562" stroke-width="1.3" stroke="#222"/>
<path d="M514.8 562L517.8 562" stroke-width="1.3" stroke="#222"/>
<path d="M524.1 562L527.1 562" stroke-width="1.3" stroke="#222"/>
<path d="M497.3 687.3L500.3 687.3" stroke-width="1.3" stroke="#222"/>
<path d="M506.1 687.3L509.1 687.3" stroke-width="1.3" stroke="#222"/>
<path d="M514.8 687.3L517.8 687.3" stroke-width="1.3" stroke="#222"/>
<path d="M524.1 687.3L527.1 687.3" stroke-width="1.3" stroke="#222"/>
<path d="M497.3 707.8L500.3 707.8" stroke-width="1.3" stroke="#222"/>
<path d="M506.1 707.8L509.1 707.8" stroke-width="1.3" stroke="#222"/>
<path d="M514.8 707.8L517.8 707.8" stroke-width="1.3" stroke="#222"/>
<path d="M524.1 707.8L527.1 707.8" stroke-width="1.3" stroke="#222"/>
<circle cx="512.1" cy="625.1" r="2.4" stroke-width="0.9"/>
<rect x="543.4" y="528.8" width="37.6" height="17.5" fill="#fff" stroke-width="1"/>
<rect x="543.4" y="696.5" width="37.6" height="16.2" fill="#fff" stroke-width="1"/>
<path d="M543.4 529L581.0 529" stroke-width="1.6" stroke="#111"/>
<path d="M543.4 712.5L581.0 712.5" stroke-width="1.4" stroke="#111"/>
<rect x="540.9" y="546.3" width="41.3" height="150.2" fill="#fff" stroke-width="1.1"/>
<path d="M540.9 547L582.2 547" stroke-width="1.8" stroke="#111"/>
<path d="M542.9 690.3L581.2 690.3" stroke-width="2.2" stroke="#111"/>
<path d="M542.4 695.8L581.2 695.8" stroke-width="1.2" stroke="#111"/>
<path d="M543.9 548L543.9 567" />
<path d="M580.2 548L580.2 567" />
<path d="M543.9 677L543.9 689" />
<path d="M580.2 677L580.2 689" />
<rect x="544.2" y="568.8" width="36.0" height="106.4" />
<path d="M544.2 588.3L580.2 588.3" />
<path d="M544.2 652.7L580.2 652.7" />
<path d="M580.9 590L580.9 620" stroke-width="1.4" stroke="#222"/>
<circle cx="548.4" cy="537" r="3.45" stroke-width="1.5" stroke="#111" fill="#fff"/>
<path d="M546.6 538.9L549.6 534.6M547.8 539.5L550.6 535.4M546.0 537.4L548.2 534.2" stroke-width="0.95" stroke="#222"/>
<circle cx="557.2" cy="537" r="3.45" stroke-width="1.5" stroke="#111" fill="#fff"/>
<path d="M555.4 538.9L558.4 534.6M556.6 539.5L559.4 535.4M554.8 537.4L557.0 534.2" stroke-width="0.95" stroke="#222"/>
<circle cx="565.9" cy="537" r="3.45" stroke-width="1.5" stroke="#111" fill="#fff"/>
<path d="M564.1 538.9L567.1 534.6M565.3 539.5L568.1 535.4M563.5 537.4L565.7 534.2" stroke-width="0.95" stroke="#222"/>
<circle cx="575.2" cy="537" r="3.45" stroke-width="1.5" stroke="#111" fill="#fff"/>
<path d="M573.4 538.9L576.4 534.6M574.6 539.5L577.4 535.4M572.8 537.4L575.0 534.2" stroke-width="0.95" stroke="#222"/>
<circle cx="548.4" cy="557.5" r="3.45" stroke-width="1.5" stroke="#111" fill="#fff"/>
<path d="M546.6 559.4L549.6 555.1M547.8 560.0L550.6 555.9M546.0 557.9L548.2 554.7" stroke-width="0.95" stroke="#222"/>
<circle cx="557.2" cy="557.5" r="3.45" stroke-width="1.5" stroke="#111" fill="#fff"/>
<path d="M555.4 559.4L558.4 555.1M556.6 560.0L559.4 555.9M554.8 557.9L557.0 554.7" stroke-width="0.95" stroke="#222"/>
<circle cx="565.9" cy="557.5" r="3.45" stroke-width="1.5" stroke="#111" fill="#fff"/>
<path d="M564.1 559.4L567.1 555.1M565.3 560.0L568.1 555.9M563.5 557.9L565.7 554.7" stroke-width="0.95" stroke="#222"/>
<circle cx="575.2" cy="557.5" r="3.45" stroke-width="1.5" stroke="#111" fill="#fff"/>
<path d="M573.4 559.4L576.4 555.1M574.6 560.0L577.4 555.9M572.8 557.9L575.0 554.7" stroke-width="0.95" stroke="#222"/>
<circle cx="548.4" cy="682.7" r="3.45" stroke-width="1.5" stroke="#111" fill="#fff"/>
<path d="M546.6 684.6L549.6 680.3000000000001M547.8 685.2L550.6 681.1M546.0 683.1L548.2 679.9000000000001" stroke-width="0.95" stroke="#222"/>
<circle cx="557.2" cy="682.7" r="3.45" stroke-width="1.5" stroke="#111" fill="#fff"/>
<path d="M555.4 684.6L558.4 680.3000000000001M556.6 685.2L559.4 681.1M554.8 683.1L557.0 679.9000000000001" stroke-width="0.95" stroke="#222"/>
<circle cx="565.9" cy="682.7" r="3.45" stroke-width="1.5" stroke="#111" fill="#fff"/>
<path d="M564.1 684.6L567.1 680.3000000000001M565.3 685.2L568.1 681.1M563.5 683.1L565.7 679.9000000000001" stroke-width="0.95" stroke="#222"/>
<circle cx="575.2" cy="682.7" r="3.45" stroke-width="1.5" stroke="#111" fill="#fff"/>
<path d="M573.4 684.6L576.4 680.3000000000001M574.6 685.2L577.4 681.1M572.8 683.1L575.0 679.9000000000001" stroke-width="0.95" stroke="#222"/>
<circle cx="548.4" cy="703.2" r="3.45" stroke-width="1.5" stroke="#111" fill="#fff"/>
<path d="M546.6 705.1L549.6 700.8000000000001M547.8 705.7L550.6 701.6M546.0 703.6L548.2 700.4000000000001" stroke-width="0.95" stroke="#222"/>
<circle cx="557.2" cy="703.2" r="3.45" stroke-width="1.5" stroke="#111" fill="#fff"/>
<path d="M555.4 705.1L558.4 700.8000000000001M556.6 705.7L559.4 701.6M554.8 703.6L557.0 700.4000000000001" stroke-width="0.95" stroke="#222"/>
<circle cx="565.9" cy="703.2" r="3.45" stroke-width="1.5" stroke="#111" fill="#fff"/>
<path d="M564.1 705.1L567.1 700.8000000000001M565.3 705.7L568.1 701.6M563.5 703.6L565.7 700.4000000000001" stroke-width="0.95" stroke="#222"/>
<circle cx="575.2" cy="703.2" r="3.45" stroke-width="1.5" stroke="#111" fill="#fff"/>
<path d="M573.4 705.1L576.4 700.8000000000001M574.6 705.7L577.4 701.6M572.8 703.6L575.0 700.4000000000001" stroke-width="0.95" stroke="#222"/>
<path d="M546.9 541.6L549.9 541.6" stroke-width="1.3" stroke="#222"/>
<path d="M555.7 541.6L558.7 541.6" stroke-width="1.3" stroke="#222"/>
<path d="M564.4 541.6L567.4 541.6" stroke-width="1.3" stroke="#222"/>
<path d="M573.7 541.6L576.7 541.6" stroke-width="1.3" stroke="#222"/>
<path d="M546.9 562L549.9 562" stroke-width="1.3" stroke="#222"/>
<path d="M555.7 562L558.7 562" stroke-width="1.3" stroke="#222"/>
<path d="M564.4 562L567.4 562" stroke-width="1.3" stroke="#222"/>
<path d="M573.7 562L576.7 562" stroke-width="1.3" stroke="#222"/>
<path d="M546.9 687.3L549.9 687.3" stroke-width="1.3" stroke="#222"/>
<path d="M555.7 687.3L558.7 687.3" stroke-width="1.3" stroke="#222"/>
<path d="M564.4 687.3L567.4 687.3" stroke-width="1.3" stroke="#222"/>
<path d="M573.7 687.3L576.7 687.3" stroke-width="1.3" stroke="#222"/>
<path d="M546.9 707.8L549.9 707.8" stroke-width="1.3" stroke="#222"/>
<path d="M555.7 707.8L558.7 707.8" stroke-width="1.3" stroke="#222"/>
<path d="M564.4 707.8L567.4 707.8" stroke-width="1.3" stroke="#222"/>
<path d="M573.7 707.8L576.7 707.8" stroke-width="1.3" stroke="#222"/>
<circle cx="561.7" cy="625.1" r="2.4" stroke-width="0.9"/>
</g>
<g font-family="'Liberation Sans',sans-serif" fill="#3a3a3a" stroke="none" text-anchor="middle">
<text x="498.8" y="575.9" font-size="4.8">5</text>
<text x="498.8" y="585.4" font-size="4.8">1</text>
<text x="498.8" y="659.8" font-size="4.8">9</text>
<text x="498.8" y="668.8" font-size="4.8">13</text>
<text x="507.6" y="575.9" font-size="4.8">6</text>
<text x="507.6" y="585.4" font-size="4.8">2</text>
<text x="507.6" y="659.8" font-size="4.8">10</text>
<text x="507.6" y="668.8" font-size="4.8">14</text>
<text x="516.3" y="575.9" font-size="4.8">7</text>
<text x="516.3" y="585.4" font-size="4.8">3</text>
<text x="516.3" y="659.8" font-size="4.8">11</text>
<text x="516.3" y="668.8" font-size="4.8">15</text>
<text x="525.6" y="575.9" font-size="4.8">8</text>
<text x="525.6" y="585.4" font-size="4.8">4</text>
<text x="525.6" y="659.8" font-size="4.8">12</text>
<text x="525.6" y="668.8" font-size="4.8">16</text>
<text x="512.4" y="618.7" font-size="5" fill="#333">PWR</text>
<text x="548.4" y="575.9" font-size="4.8">5</text>
<text x="548.4" y="585.4" font-size="4.8">1</text>
<text x="548.4" y="659.8" font-size="4.8">9</text>
<text x="548.4" y="668.8" font-size="4.8">13</text>
<text x="557.2" y="575.9" font-size="4.8">6</text>
<text x="557.2" y="585.4" font-size="4.8">2</text>
<text x="557.2" y="659.8" font-size="4.8">10</text>
<text x="557.2" y="668.8" font-size="4.8">14</text>
<text x="565.9" y="575.9" font-size="4.8">7</text>
<text x="565.9" y="585.4" font-size="4.8">3</text>
<text x="565.9" y="659.8" font-size="4.8">11</text>
<text x="565.9" y="668.8" font-size="4.8">15</text>
<text x="575.2" y="575.9" font-size="4.8">8</text>
<text x="575.2" y="585.4" font-size="4.8">4</text>
<text x="575.2" y="659.8" font-size="4.8">12</text>
<text x="575.2" y="668.8" font-size="4.8">16</text>
<text x="562.0" y="618.7" font-size="5" fill="#333">PWR</text>
</g>
<text x="496.6" y="732.6" font-size="11.8" fill="#2e2e2e" font-family="'Liberation Sans','Noto Sans CJK SC',sans-serif" font-weight="350" textLength="82" lengthAdjust="spacing">垂直安装示意图</text></svg>
</div></body></html>
